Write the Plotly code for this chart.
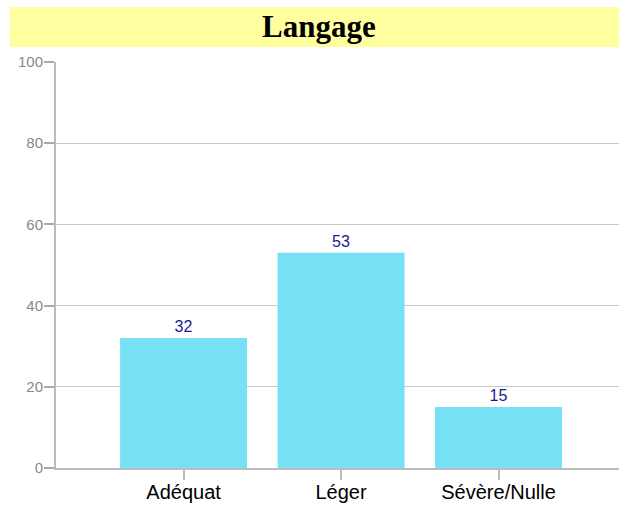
import plotly.graph_objects as go

categories = ["Adéquat", "Léger", "Sévère/Nulle"]
values = [32, 53, 15]
y_ticks = [0, 20, 40, 60, 80, 100]
title_text = "Langage"

W, H = 619, 505
ml, mr, mt, mb = 56, 0, 62, 37
pw = W - ml - mr
ph = H - mt - mb

def sx(px):
    return (px - ml) / pw

def sy(py):
    return (H - mb - py) / ph

fig = go.Figure()
fig.add_trace(go.Bar(
    x=categories,
    y=values,
    width=0.806,
    marker=dict(color="#76E0F5", line=dict(width=0)),
    text=[str(v) for v in values],
    textposition="outside",
    textfont=dict(family="Liberation Sans, Arial", size=16, color="#1B1B8F"),
    cliponaxis=False,
    hoverinfo="skip",
))

fig.add_shape(type="rect", xref="paper", yref="paper",
              x0=sx(10), x1=sx(619),
              y0=sy(47), y1=sy(7),
              fillcolor="#FFFFA0", line=dict(width=0), layer="below")
fig.add_annotation(text="<b>" + title_text + "</b>", xref="paper", yref="paper",
                   x=sx(319), y=sy(27),
                   xanchor="center", yanchor="middle", showarrow=False,
                   font=dict(family="Liberation Serif, Times New Roman", size=31, color="#000000"))

fig.update_layout(
    width=W, height=H,
    margin=dict(l=ml, r=mr, t=mt, b=mb, pad=0),
    paper_bgcolor="white", plot_bgcolor="white",
    showlegend=False,
    xaxis=dict(
        type="category",
        range=[-0.81, 2.765],
        showline=True, linecolor="#BBBBBB", linewidth=2,
        ticks="outside", ticklen=10, tickcolor="#BBBBBB", tickwidth=2,
        ticklabelstandoff=-5,
        tickfont=dict(family="Liberation Sans, Arial", size=20, color="#000000"),
        showgrid=False, zeroline=False,
    ),
    yaxis=dict(
        range=[0, 100],
        tickvals=y_ticks,
        showline=True, linecolor="#BBBBBB", linewidth=2,
        ticks="outside", ticklen=10, tickcolor="#AAAAAA", tickwidth=2,
        ticklabelstandoff=-2,
        tickfont=dict(family="Liberation Sans, Arial", size=15, color="#888888"),
        showgrid=True, gridcolor="#C8C8C8", gridwidth=1,
        zeroline=False,
    ),
)

fig.write_html(
    "out.html",
    config={"displayModeBar": False},
    post_script="document.body.style.margin='0';document.body.style.overflow='hidden';",
)
